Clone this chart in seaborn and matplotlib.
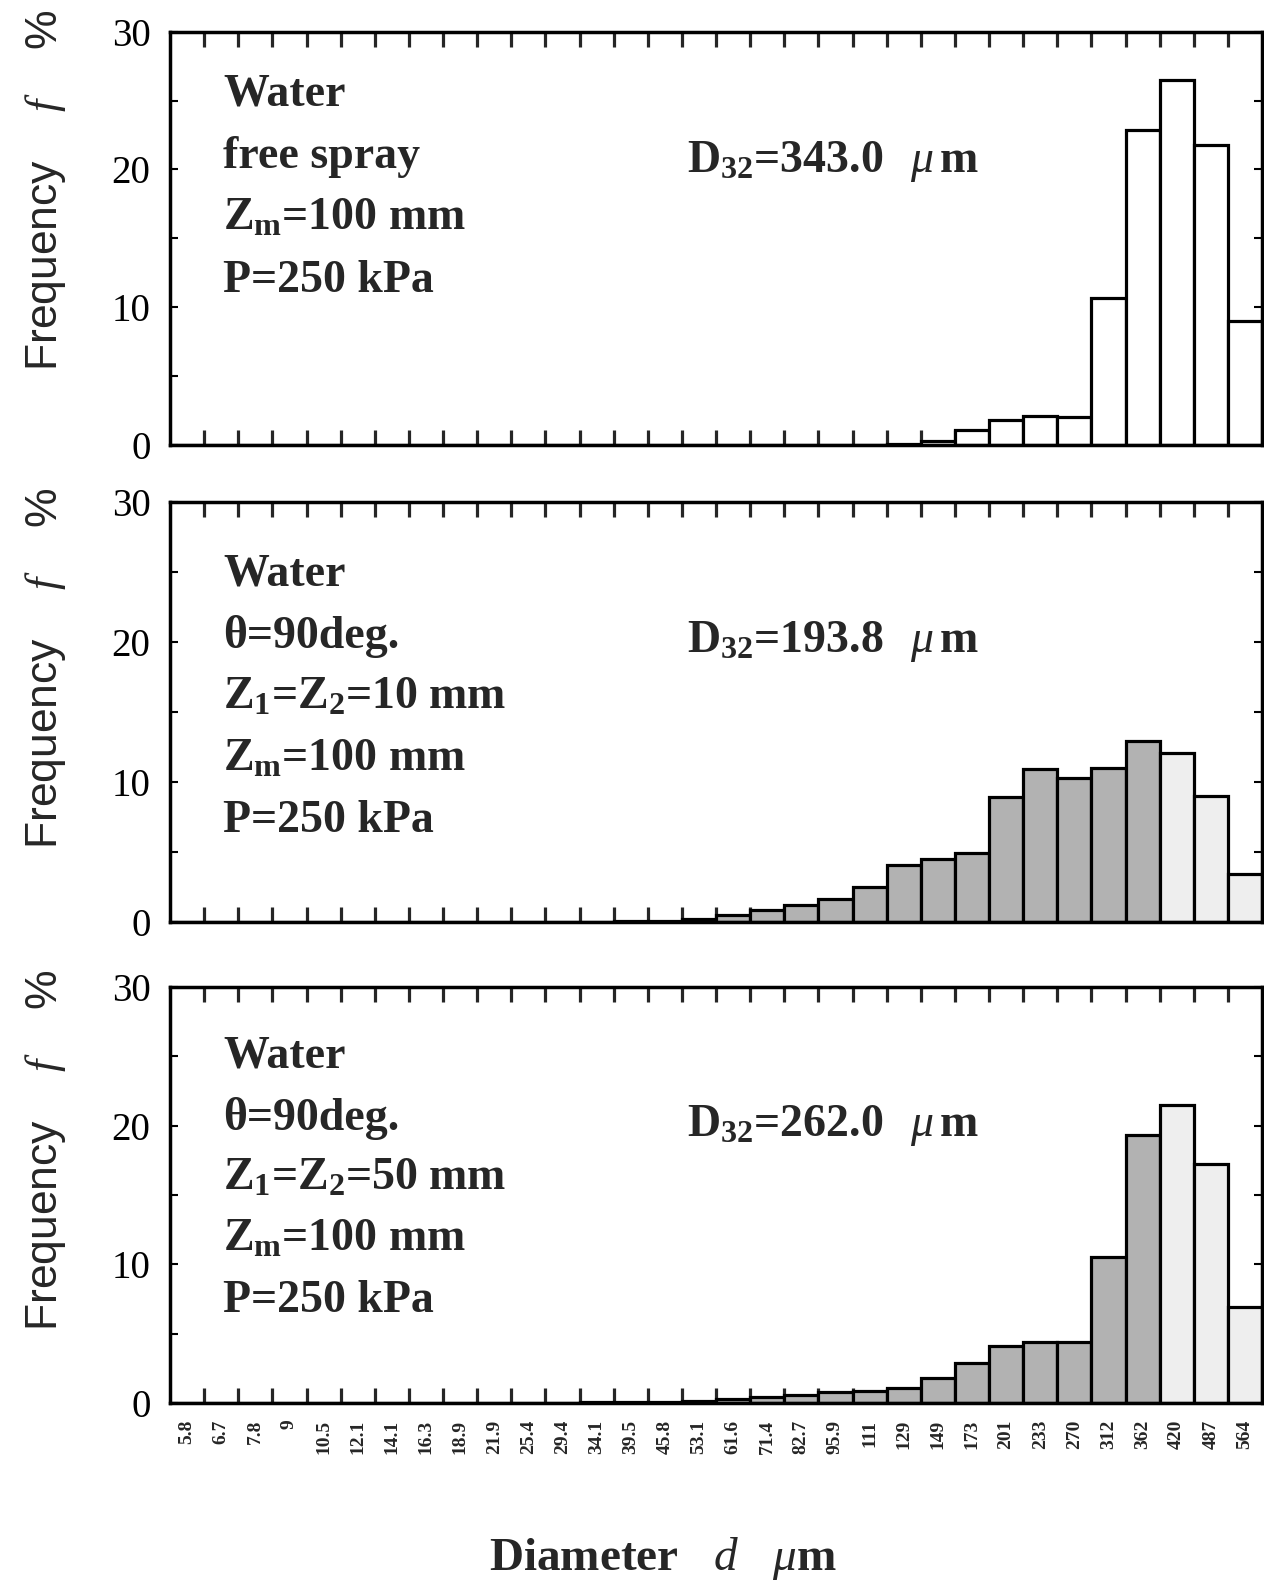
"""Droplet size distributions for water sprays (three cases)."""

import matplotlib
matplotlib.use("Agg")
import matplotlib.pyplot as plt
from matplotlib.ticker import FixedLocator, MultipleLocator
import seaborn as sns

# bin labels (diameter, um)
diam_labels = ["5.8", "6.7", "7.8", "9", "10.5", "12.1", "14.1", "16.3", "18.9",
               "21.9", "25.4", "29.4", "34.1", "39.5", "45.8", "53.1", "61.6",
               "71.4", "82.7", "95.9", "111", "129", "149", "173", "201", "233",
               "270", "312", "362", "420", "487", "564"]

# frequency f (%) per bin
free_spray = [0, 0, 0, 0, 0, 0, 0, 0, 0, 0, 0, 0, 0, 0, 0, 0, 0, 0, 0, 0, 0,
              0.1, 0.3, 1.1, 1.8, 2.1, 2.0, 10.7, 22.9, 26.5, 21.8, 9.0]
impinge_10mm = [0, 0, 0, 0, 0, 0, 0, 0, 0, 0, 0, 0, 0,
                0.05, 0.1, 0.2, 0.5, 0.85, 1.2, 1.65, 2.5, 4.05, 4.5, 4.9,
                8.9, 10.95, 10.3, 11.0, 12.9, 12.1, 9.0, 3.45]
impinge_50mm = [0, 0, 0, 0, 0, 0, 0, 0, 0, 0, 0, 0,
                0.1, 0.05, 0.1, 0.15, 0.3, 0.4, 0.6, 0.8, 0.9, 1.1, 1.8, 2.9,
                4.1, 4.4, 4.4, 10.5, 19.3, 21.5, 17.2, 6.9]

d32_values = ["343.0", "193.8", "262.0"]
case_lines = [
    ["Water", "free spray", r"Z$_\mathrm{m}$=100 mm", "P=250 kPa"],
    ["Water", "θ=90deg.", r"Z$_\mathrm{1}$=Z$_\mathrm{2}$=10 mm",
     r"Z$_\mathrm{m}$=100 mm", "P=250 kPa"],
    ["Water", "θ=90deg.", r"Z$_\mathrm{1}$=Z$_\mathrm{2}$=50 mm",
     r"Z$_\mathrm{m}$=100 mm", "P=250 kPa"],
]

sns.set_theme(style="ticks")
plt.rcParams["font.family"] = ["Liberation Serif", "DejaVu Serif"]
plt.rcParams["mathtext.fontset"] = "custom"
plt.rcParams["mathtext.rm"] = "Liberation Serif:bold"
plt.rcParams["mathtext.it"] = "Liberation Serif:italic"
plt.rcParams["mathtext.bf"] = "Liberation Serif:bold"

W, H = 1264, 1591
fig = plt.figure(figsize=(W / 100, H / 100), dpi=100)

# axes boxes in pixels: (top, bottom)
boxes = [(31.7, 445), (502, 922), (987, 1403)]
left_px, right_px = 170, 1262

series = [free_spray, impinge_10mm, impinge_50mm]
shaded = [False, True, True]

# where the text blocks sit (pixels): first line y, line step, D32 y
text_pos = [(94, 62.5, 162), (575, 61.5, 641), (1057, 61, 1126)]
ylabel_center = [190, 668, 1150]

for i, vals in enumerate(series):
    top, bot = boxes[i]
    ax = fig.add_axes([left_px / W, 1 - bot / H, (right_px - left_px) / W, (bot - top) / H])

    if shaded[i]:
        colors = ["#b2b2b2"] * 29 + ["#eeeeee"] * 3
    else:
        colors = ["white"] * 32
    sns.barplot(x=diam_labels, y=vals, hue=diam_labels, palette=colors,
                legend=False, ax=ax, width=1.0, edgecolor="black",
                linewidth=2.3, saturation=1)

    ax.set_xlim(-0.5, 31.5)
    ax.set_ylim(0, 30)
    for s in ax.spines.values():
        s.set_linewidth(2.5)
        s.set_color("black")
        s.set_visible(True)

    ax.set_yticks([0, 10, 20, 30])
    ax.yaxis.set_minor_locator(MultipleLocator(5))
    ax.tick_params(axis="y", which="both", direction="in", left=True, right=True,
                   length=6, width=1.5, labelsize=28, pad=14, colors="black")
    ax.xaxis.set_minor_locator(FixedLocator([k + 0.5 for k in range(31)]))
    ax.tick_params(axis="x", which="minor", direction="in", top=True, bottom=True,
                   length=11, width=2.3)
    ax.tick_params(axis="x", which="major", length=0, pad=12, labelsize=14,
                   labelrotation=90)
    for lab in ax.get_xticklabels():
        lab.set_fontweight("bold")
    if i < 2:
        ax.set_xticklabels([])
    ax.set_xlabel("")
    ax.set_ylabel("")

    # condition text
    y0, step, yd = text_pos[i]
    for j, line in enumerate(case_lines[i]):
        fig.text(223 / W, 1 - (y0 + j * step) / H, line, fontsize=33,
                 fontweight="bold", va="center", ha="left")
    fig.text(687 / W, 1 - yd / H,
             r"D$_{32}$=" + d32_values[i] + r"$\;\;\;\mu\,$m",
             fontsize=33, fontweight="bold", va="center", ha="left")

    # y label
    fig.text(46 / W, 1 - ylabel_center[i] / H, r"Frequency    $f$    %",
             rotation=90, fontsize=32, va="center", ha="center",
             family=["Liberation Sans", "DejaVu Sans"])

fig.text(663 / W, 1 - 1559 / H, r"Diameter   $d$   $\mu$m", fontsize=34,
         fontweight="bold", ha="center", va="center")

fig.savefig("out.png", dpi=100, facecolor="white")
